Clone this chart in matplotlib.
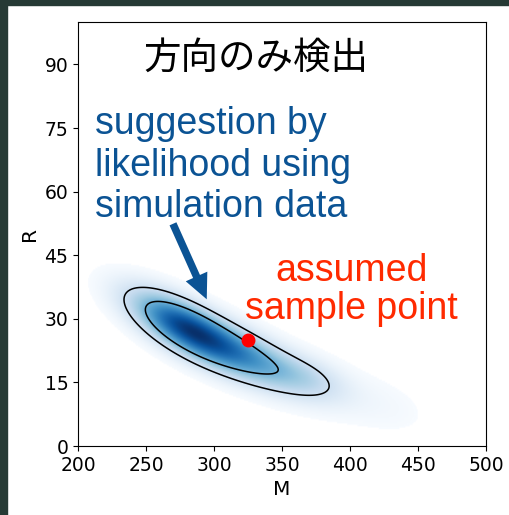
import numpy as np
import matplotlib.pyplot as plt
from matplotlib.patches import Rectangle

# likelihood surface, described as a few gaussian pieces along the ridge
# (M, R, spread along M, spread across the ridge in R, ridge slope dR/dM, weight)
comp_M = [280, 330, 372, 418]
comp_R = [27.6, 20.3, 15.8, 10.0]
comp_sM = [28, 28, 20, 30]
comp_sR = [4.2, 4.2, 3.6, 5.0]
comp_slope = [-0.15, -0.13, -0.09, -0.08]
comp_w = [1.0, 0.5, 0.19, 0.06]

contour_levels = [0.23, 0.5]   # fraction of the peak

sample_M = 325
sample_R = 25

title = '方向のみ検出'
blue_text = 'suggestion by\nlikelihood using\nsimulation data'
red_text = 'assumed\nsample point'

x_ticks = [200, 250, 300, 350, 400, 450, 500]
y_ticks = [0, 15, 30, 45, 60, 75, 90]

blue = '#0b5394'
red = '#ff2a00'

gm = np.linspace(200, 500, 400)
gr = np.linspace(0, 100, 300)
MM, RR = np.meshgrid(gm, gr)
dens = np.zeros_like(MM)
for m, r, sm, sr, k, w in zip(comp_M, comp_R, comp_sM, comp_sR, comp_slope, comp_w):
    dens += w * np.exp(-0.5 * (((MM - m) / sm) ** 2 + ((RR - r - k * (MM - m)) / sr) ** 2))
dens = dens / dens.max()

fig = plt.figure(figsize=(5.1, 5.15), dpi=100)
fig.patches.append(Rectangle((0, 0), 7 / 510, 1, transform=fig.transFigure, color='#263a35', zorder=-1))
fig.patches.append(Rectangle((0, 1 - 5 / 515), 1, 5 / 515, transform=fig.transFigure, color='#263a35', zorder=-1))

ax = fig.add_axes([78 / 510, 69 / 515, 408 / 510, 424 / 515])
cmap = plt.get_cmap('Blues').copy()
cmap.set_under('white')
ax.imshow(dens, extent=[200, 500, 0, 100], origin='lower', aspect='auto',
          cmap=cmap, vmin=0.03, vmax=1.0, interpolation='bilinear')
ax.contour(MM, RR, dens, levels=contour_levels, colors='black', linewidths=1.1)

ax.plot(sample_M, sample_R, 'o', color='#ff0000', markersize=9)

ax.annotate('', xy=(295.5, 34.0), xytext=(269, 53),
            arrowprops=dict(arrowstyle='simple,head_length=0.9,head_width=0.85,tail_width=0.27',
                            mutation_scale=20, color=blue, lw=0))

ax.text(0.437, 0.915, title, transform=ax.transAxes, ha='center', va='center',
        fontsize=27, family=['Noto Sans CJK JP', 'DejaVu Sans'])
ax.text(0.042, 0.802, blue_text, transform=ax.transAxes, ha='left', va='top',
        fontsize=27, family='Liberation Sans', color=blue, linespacing=1.2)
ax.text(0.67, 0.368, red_text, transform=ax.transAxes, ha='center', va='center',
        fontsize=27, family='Liberation Sans', color=red, linespacing=1.1)

ax.set_xlim(200, 500)
ax.set_ylim(0, 100)
ax.set_xticks(x_ticks)
ax.set_yticks(y_ticks)
ax.tick_params(labelsize=13.5)
ax.set_xlabel('M', fontsize=14.5)
ax.set_ylabel('R', fontsize=14.5)

fig.savefig('out.png', dpi=100)
